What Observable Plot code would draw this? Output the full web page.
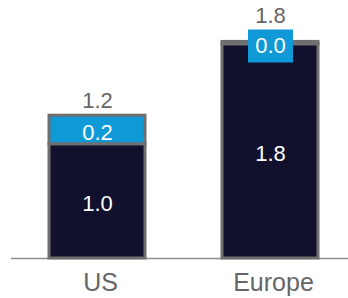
<!DOCTYPE html>
<html>
<head>
<meta charset="utf-8">
<script src="https://cdn.jsdelivr.net/npm/d3@7"></script>
<script src="https://cdn.jsdelivr.net/npm/@observablehq/plot@0.6"></script>
<style>
  html, body { margin: 0; padding: 0; background: #fff; }
  #chart { width: 348px; height: 298px; }
</style>
</head>
<body>
<div id="chart"></div>
<script>
const regions = ["US", "Europe"];
const baseValues = [0.96, 1.80];
const extraValues = [0.24, 0.02];

const rows = [];
regions.forEach((r, i) => {
  rows.push({region: r, part: "base", value: baseValues[i]});
  rows.push({region: r, part: "extra", value: extraValues[i]});
});
const totals = regions.map((r, i) => ({region: r, total: baseValues[i] + extraValues[i], small: extraValues[i] < 0.1}));

const NAVY = "#11112e";
const BLUE = "#0f99d6";
const GRAY = "#6f6f6f";
const TEXT = "#666666";
const FONT = "'Liberation Sans', Arial, Helvetica, sans-serif";

const boxSymbol = { draw(ctx) { ctx.rect(-22.5, -16.5, 45, 33); } };

const chart = Plot.plot({
  width: 348,
  height: 298,
  marginLeft: 11,
  marginRight: 0,
  marginTop: 0,
  marginBottom: 40,
  style: { fontFamily: FONT, background: "#fff" },
  x: { domain: regions, range: [13.7, 354.3], paddingInner: 0.4425, paddingOuter: 0.2, axis: null, label: null },
  y: { domain: [0, 2], range: [258, 20], axis: null },
  color: { domain: ["base", "extra"], range: [NAVY, BLUE] },
  marks: [
    Plot.ruleY([0], { stroke: "#8c8c8c", strokeWidth: 1.5 }),
    Plot.barY(rows, { x: "region", y: "value", fill: "part", stroke: GRAY, strokeWidth: 3 }),
    Plot.dot(rows, Plot.filter(d => d.part === "extra" && d.value < 0.1, Plot.stackY({
      x: "region", y: "value", z: "part",
      symbol: boxSymbol, fill: BLUE, stroke: null, dy: 3
    }))),
    Plot.text(rows, Plot.stackY({
      x: "region", y: "value", z: "part",
      text: d => d.value.toFixed(1),
      fill: "white", fontSize: 22, dy: 3
    })),
    Plot.text(totals, {
      x: "region", y: "total", filter: d => !d.small,
      text: d => d.total.toFixed(1), fill: TEXT, fontSize: 22, dy: -15
    }),
    Plot.text(totals, {
      x: "region", y: "total", filter: d => d.small,
      text: d => d.total.toFixed(1), fill: TEXT, fontSize: 22, dy: -26
    }),
    Plot.axisX({ tickSize: 0, tickPadding: 15, fontSize: 25, color: TEXT, dx: 3, label: null })
  ]
});
document.getElementById("chart").appendChild(chart);
</script>
</body>
</html>
